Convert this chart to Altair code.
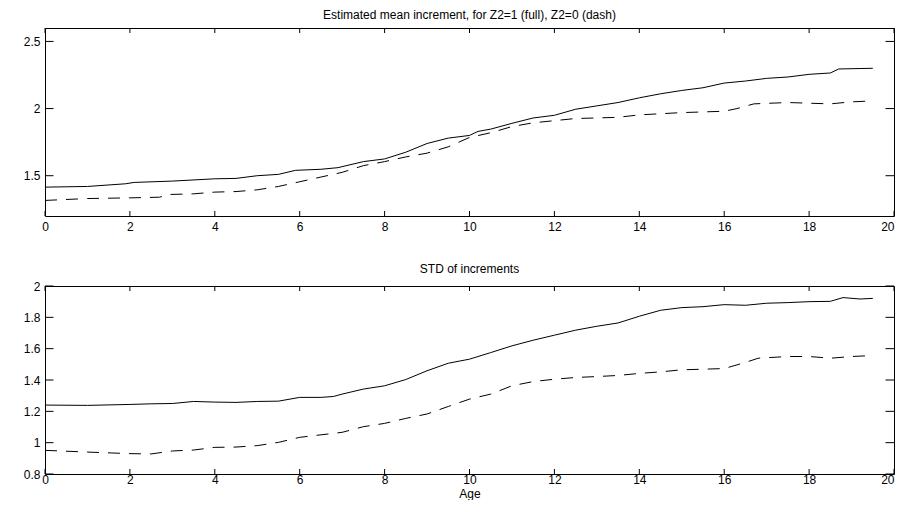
import altair as alt
import pandas as pd

# ---------------- data ----------------
x_ticks = [0, 2, 4, 6, 8, 10, 12, 14, 16, 18, 20]
mean_y_ticks = [1.5, 2, 2.5]
std_y_ticks = [0.8, 1, 1.2, 1.4, 1.6, 1.8, 2]

mean_full_age = [0, 1, 1.9, 2.1, 3, 4, 4.5, 5, 5.5, 5.9,
                 6.5, 6.9, 7.5, 8, 8.5, 9, 9.5, 10, 10.2, 10.5,
                 11, 11.5, 12, 12.5, 13, 13.5, 14, 14.5, 15, 15.5,
                 16, 16.5, 17, 17.5, 18, 18.5, 18.7, 19.5]
mean_full = [1.415, 1.42, 1.44, 1.45, 1.46, 1.477, 1.48, 1.50, 1.51, 1.54,
             1.548, 1.56, 1.605, 1.625, 1.675, 1.74, 1.78, 1.80, 1.83, 1.847,
             1.89, 1.93, 1.95, 1.995, 2.02, 2.045, 2.08, 2.11, 2.135, 2.155,
             2.19, 2.205, 2.225, 2.235, 2.255, 2.265, 2.295, 2.30]

mean_dash_age = [0, 1, 2, 2.7, 2.9, 3.5, 4, 4.5, 5, 5.5,
                 6, 6.5, 7, 7.5, 8, 8.5, 9, 9.5, 10, 10.5,
                 11, 11.5, 12, 12.5, 13, 13.5, 14, 15, 16, 16.3,
                 16.7, 17.5, 18, 18.5, 19, 19.5]
mean_dash = [1.316, 1.33, 1.335, 1.34, 1.36, 1.365, 1.378, 1.382, 1.395, 1.42,
             1.455, 1.49, 1.525, 1.575, 1.605, 1.64, 1.668, 1.715, 1.785, 1.82,
             1.866, 1.894, 1.91, 1.926, 1.93, 1.935, 1.953, 1.97, 1.98, 2.0,
             2.035, 2.045, 2.04, 2.035, 2.05, 2.057]

std_full_age = [0, 1, 2, 2.5, 3, 3.5, 4, 4.5, 5, 5.5,
                6, 6.5, 6.8, 7, 7.5, 8, 8.5, 9, 9.5, 10,
                10.5, 11, 11.5, 12, 12.5, 13, 13.5, 14, 14.5, 15,
                15.5, 16, 16.5, 17, 17.5, 18, 18.5, 18.8, 19.2, 19.5]
std_full = [1.24, 1.238, 1.244, 1.248, 1.25, 1.263, 1.259, 1.257, 1.263, 1.265,
            1.289, 1.289, 1.295, 1.31, 1.342, 1.363, 1.403, 1.459, 1.507, 1.533,
            1.575, 1.618, 1.654, 1.686, 1.718, 1.743, 1.764, 1.807, 1.845, 1.862,
            1.868, 1.881, 1.877, 1.89, 1.894, 1.90, 1.902, 1.926, 1.917, 1.921]

std_dash_age = [0, 1, 2, 2.5, 3, 3.5, 4, 4.5, 5, 5.5,
                6, 6.5, 7, 7.5, 8, 8.5, 9, 9.5, 10, 10.5,
                11, 11.5, 12, 12.5, 13, 13.5, 14, 14.5, 15, 15.5,
                16, 16.5, 16.8, 17.5, 18, 18.5, 19, 19.5]
std_dash = [0.951, 0.94, 0.93, 0.928, 0.947, 0.953, 0.97, 0.972, 0.981, 1.002,
            1.034, 1.05, 1.066, 1.102, 1.123, 1.155, 1.183, 1.231, 1.278, 1.31,
            1.363, 1.39, 1.405, 1.416, 1.422, 1.429, 1.442, 1.452, 1.465, 1.469,
            1.473, 1.512, 1.539, 1.55, 1.55, 1.539, 1.55, 1.556]

# ---------------- styling ----------------
FONT = "Liberation Sans"
W = 849


def panel(title, a_age, a_val, b_age, b_val, ydom, yticks, H, xlabpad,
          xtitle, title_offset):
    xs = alt.Scale(domain=[0, 20], nice=False, zero=False)
    ys = alt.Scale(domain=ydom, nice=False, zero=False)
    xkw = dict(values=x_ticks, format="~g", ticks=False, tickSize=0,
               domain=False, grid=False, labelPadding=xlabpad,
               labelFont=FONT, labelFontSize=12, labelColor="black",
               labelFlush=False, labelOverlap=False,
               labelAlign={"condition": {"test": "datum.value == 20",
                                         "value": "right"},
                           "value": "center"})
    if xtitle:
        xkw.update(title=xtitle, titleFont=FONT, titleFontSize=12,
                   titleFontWeight="normal", titleColor="black",
                   titlePadding=3)
    else:
        xkw.update(title=None)
    xaxis = alt.Axis(**xkw)
    yaxis = alt.Axis(values=yticks, format="~g", ticks=False, tickSize=0,
                     domain=False, grid=False, labelPadding=5, title=None,
                     labelFont=FONT, labelFontSize=12, labelColor="black",
                     labelFlush=False, labelOverlap=False,
                     minExtent=36, maxExtent=36)

    da = pd.DataFrame({"age": a_age, "v": a_val})
    db = pd.DataFrame({"age": b_age, "v": b_val})
    tx = pd.DataFrame({"age": x_ticks})
    ty = pd.DataFrame({"v": yticks})

    X = alt.X("age:Q", scale=xs, axis=xaxis)
    Y = alt.Y("v:Q", scale=ys, axis=yaxis)

    full = alt.Chart(da).mark_line(color="black", strokeWidth=1).encode(
        x=X, y=Y)
    dash = alt.Chart(db).mark_line(color="black", strokeWidth=1,
                                   strokeDash=[12, 9]).encode(x=X, y=Y)
    bt = alt.Chart(tx).mark_rule(color="black", strokeWidth=1).encode(
        x=X, y=alt.value(H), y2=alt.value(H - 5))
    tt = alt.Chart(tx).mark_rule(color="black", strokeWidth=1).encode(
        x=X, y=alt.value(0), y2=alt.value(5))
    lt = alt.Chart(ty).mark_rule(color="black", strokeWidth=1).encode(
        y=Y, x=alt.value(0), x2=alt.value(8.5))
    rt = alt.Chart(ty).mark_rule(color="black", strokeWidth=1).encode(
        y=Y, x=alt.value(W), x2=alt.value(W - 8.5))

    return alt.layer(full, dash, bt, tt, lt, rt).properties(
        width=W, height=H,
        title=alt.TitleParams(title, font=FONT, fontSize=12,
                              fontWeight="normal", color="black",
                              anchor="middle", offset=title_offset))


top = panel("Estimated mean increment, for Z2=1 (full), Z2=0 (dash)",
            mean_full_age, mean_full, mean_dash_age, mean_dash,
            [1.2, 2.6], mean_y_ticks, 188, 5, None, 6)
bottom = panel("STD of increments",
               std_full_age, std_full, std_dash_age, std_dash,
               [0.8, 2.0], std_y_ticks, 188, 0, "Age", 4)

chart = alt.vconcat(top, bottom, spacing=29).properties(
    padding={"left": 0, "top": 0, "right": 0, "bottom": 0},
    background="white",
).configure_view(stroke="black", strokeWidth=1)

chart.save("out.html", embed_options={"renderer": "svg", "actions": False})
